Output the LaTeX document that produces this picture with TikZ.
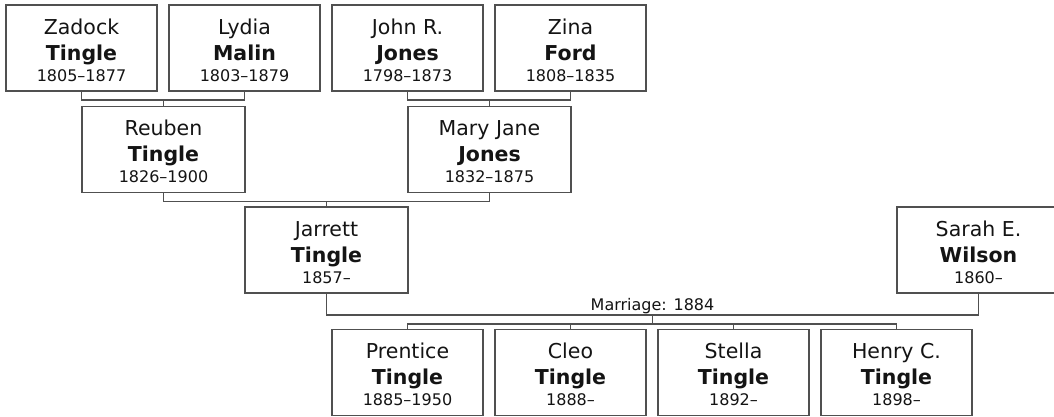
\documentclass[tikz,border=0pt]{standalone}
\usepackage{fontspec}
\setmainfont{DejaVu Sans}
\usepackage{tikz}
\usetikzlibrary{positioning,calc}
\definecolor{ftedge}{RGB}{80,80,80}
\definecolor{ftink}{RGB}{20,20,20}
\newcommand{\who}[3]{\rule{0pt}{19.5pt}#1\\\textbf{#2}\\[-5pt]{\fontsize{16}{16}\selectfont #3}}
\tikzset{
  person/.style={
    draw=ftedge, line width=1.5pt, fill=white, text=ftink,
    align=center, inner sep=0pt, minimum height=86pt,
    font=\fontsize{20.5}{26}\selectfont
  },
  elder/.style={person, minimum width=151pt},
  parent/.style={person, minimum width=163pt},
  child/.style={person, minimum width=151pt},
  link/.style={draw=ftedge, line width=1.5pt},
  anno/.style={font=\fontsize{16}{16}\selectfont, text=ftink, inner sep=1pt}
}
\begin{document}
\begin{tikzpicture}[x=1pt,y=-1pt]
  \useasboundingbox (0,0) rectangle (1054,416);
  % Grandparents
  \node[elder] (zadock) at (81.5,48) {\who{Zadock}{Tingle}{1805--1877}};
  \node[elder] (lydia) at (244.5,48) {\who{Lydia}{Malin}{1803--1879}};
  \node[elder] (john) at (407.5,48) {\who{John R.}{Jones}{1798--1873}};
  \node[elder] (zina) at (570.5,48) {\who{Zina}{Ford}{1808--1835}};

  % Parents
  \node[parent] (reuben) at (163.5,149.5) {\who{Reuben}{Tingle}{1826--1900}};
  \node[parent] (mary) at (489.5,149.5) {\who{Mary Jane}{Jones}{1832--1875}};

  % The couple
  \node[parent] (jarrett) at (326.5,250) {\who{Jarrett}{Tingle}{1857--}};
  \node[parent] (sarah) at (978.5,250) {\who{Sarah E.}{Wilson}{1860--}};

  % Children
  \node[child] (prentice) at (407.5,372.5) {\who{Prentice}{Tingle}{1885--1950}};
  \node[child] (cleo) at (570.5,372.5) {\who{Cleo}{Tingle}{1888--}};
  \node[child] (stella) at (733.5,372.5) {\who{Stella}{Tingle}{1892--}};
  \node[child] (henry) at (896.5,372.5) {\who{Henry C.}{Tingle}{1898--}};

  \draw[link] (zadock.south) -- ++(0,8) coordinate (zl) -| (lydia.south);
  \draw[link] (reuben.north) -- (reuben.north |- zl);
  \draw[link] (john.south) -- ++(0,8) coordinate (jz) -| (zina.south);
  \draw[link] (mary.north) -- (mary.north |- jz);

  \draw[link] (reuben.south) -- ++(0,8) coordinate (rm) -| (mary.south);
  \draw[link] (jarrett.north) -- (jarrett.north |- rm);

  \draw[link] (jarrett.south) -- ++(0,21)
    -| node[pos=0.25, coordinate] (wed) {} (sarah.south);
  \node[anno, anchor=south] (wedlab) at (wed) {Marriage: 1884};

  \draw[link] (wed) -- ++(0,9) coordinate (kb);
  \draw[link] (prentice.north) -- (prentice.north |- kb) -| (henry.north);
  \draw[link] (cleo.north) -- (cleo.north |- kb);
  \draw[link] (stella.north) -- (stella.north |- kb);
\end{tikzpicture}
\end{document}
